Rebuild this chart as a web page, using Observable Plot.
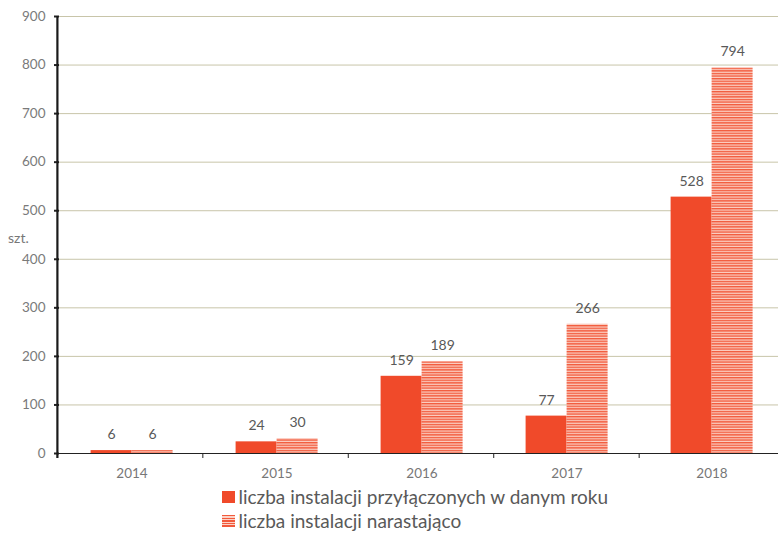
<!DOCTYPE html>
<html>
<head>
<meta charset="utf-8">
<script src="https://cdn.jsdelivr.net/npm/d3@7"></script>
<script src="https://cdn.jsdelivr.net/npm/@observablehq/plot@0.6"></script>
<style>
  body { margin: 0; background: #fff; font-family: Lato, "Open Sans", sans-serif; }
  #wrap { position: relative; width: 778px; height: 534px; }
  #legend { padding-left: 222px; margin-top: 1px; color: #595959; font-size: 19px; }
  .row { height: 24px; line-height: 24px; display: flex; align-items: center; }
  .sw { width: 12.5px; height: 12.5px; margin-right: 4px; flex: none; }
  .ylab { position: absolute; left: 8px; top: 229px; font-size: 14px; color: #777; }
</style>
</head>
<body>
<div id="wrap">
  <div id="chart"></div>
  <div class="ylab">szt.</div>
  <div id="legend"></div>
</div>
<script>
const years = ["2014", "2015", "2016", "2017", "2018"];
const perYear = [6, 24, 159, 77, 528];
const cumulative = [6, 30, 189, 266, 794];
const seriesNames = ["liczba instalacji przyłączonych w danym roku", "liczba instalacji narastająco"];
const yTicks = [0, 100, 200, 300, 400, 500, 600, 700, 800, 900];

const solidColor = "#f04a2a";
const stripeDark = "#f25a3c";
const stripeLight = "#fcd2c6";

const data = years.flatMap((y, i) => [
  {year: y, series: seriesNames[0], value: perYear[i]},
  {year: y, series: seriesNames[1], value: cumulative[i]}
]);

const chart = Plot.plot({
  width: 778,
  height: 484,
  marginLeft: 57.4,
  marginRight: -6.6,
  marginTop: 16,
  marginBottom: 31,
  style: {fontFamily: "Lato, 'Open Sans', sans-serif", fontSize: "13px", color: "#777", background: "white"},
  fx: {domain: years, padding: 0, label: null},
  x: {domain: seriesNames, paddingInner: 0, paddingOuter: 0.75, axis: null},
  y: {domain: [0, 900], label: null, axis: null},
  color: {type: "ordinal", domain: seriesNames, range: [solidColor, "url(#stripes)"]},
  marks: [
    Plot.ruleY(yTicks.filter(d => d > 0), {stroke: "#c8c5a9", strokeWidth: 1}),
    Plot.barY(data, {fx: "year", x: "series", y: "value", fill: "series"}),
    Plot.ruleY([0], {stroke: "#222", strokeWidth: 1}),
    Plot.text(data, {fx: "year", x: "series", y: "value", text: d => String(d.value), dy: -16, fill: "#595959", fontSize: 14}),
    Plot.axisY({ticks: yTicks, tickSize: 5, tickPadding: 9, label: null, fontSize: 13.5, stroke: "#222", strokeWidth: 2, fill: "#7a7a7a"}),
    Plot.axisFx({anchor: "bottom", tickSize: 0, tickPadding: 15, label: null, fontSize: 13.5, fill: "#777"})
  ]
});

const svg = d3.select(chart);
const defs = svg.insert("defs", ":first-child");
const pat = defs.append("pattern")
  .attr("id", "stripes")
  .attr("patternUnits", "userSpaceOnUse")
  .attr("width", 8).attr("height", 2.6);
pat.append("rect").attr("width", 8).attr("height", 2.6).attr("fill", stripeLight);
pat.append("rect").attr("width", 8).attr("height", 1.4).attr("fill", stripeDark);

// axis line and category boundary ticks, from Plot's scales
const ys = chart.scale("y");
const fxs = chart.scale("fx");
const y0 = ys.apply(0), yTop = ys.apply(900);
const band = d3.scaleBand().domain(fxs.domain).range(fxs.range)
  .paddingInner(fxs.paddingInner || 0).paddingOuter(fxs.paddingOuter || 0);
const xLeft = fxs.range[0];
const bounds = years.map(d => band(d)).concat([band(years[years.length - 1]) + band.step()]);
svg.append("g").selectAll("line").data(bounds).join("line")
  .attr("x1", d => d).attr("x2", d => d)
  .attr("y1", y0).attr("y2", y0 + 5)
  .attr("stroke", "#222").attr("stroke-width", 1);
svg.append("line")
  .attr("x1", xLeft).attr("x2", xLeft)
  .attr("y1", yTop).attr("y2", y0 + 5)
  .attr("stroke", "#1a1a1a").attr("stroke-width", 2.2);

document.getElementById("chart").append(chart);

const legend = d3.select("#legend");
seriesNames.forEach((name, i) => {
  const row = legend.append("div").attr("class", "row");
  row.append("div").attr("class", "sw")
    .style("background", i === 0 ? solidColor
      : `repeating-linear-gradient(to bottom, ${stripeDark} 0px, ${stripeDark} 1.4px, ${stripeLight} 1.4px, ${stripeLight} 2.6px)`);
  row.append("span").text(name);
});
</script>
</body>
</html>
